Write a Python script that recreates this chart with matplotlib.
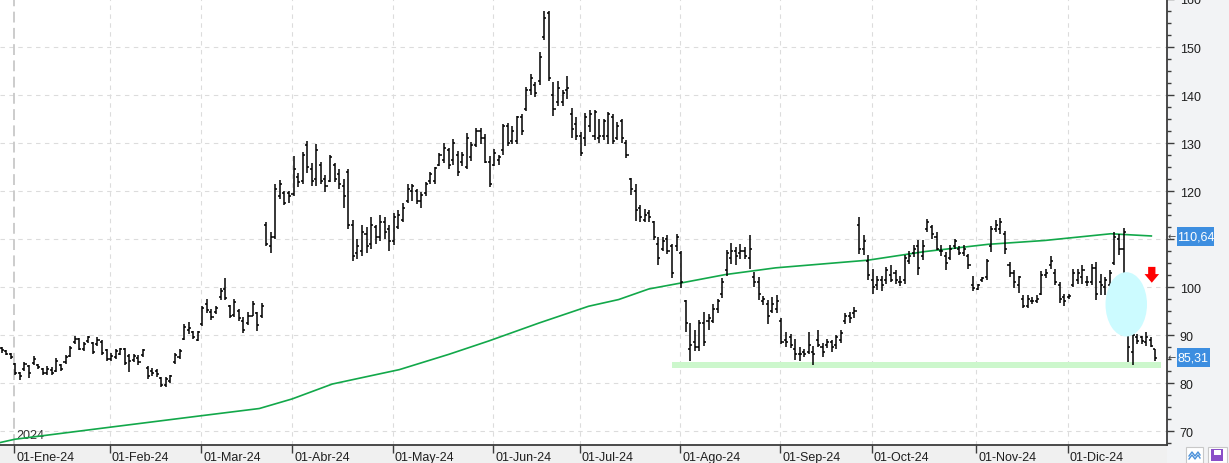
import matplotlib
matplotlib.use("Agg")
import matplotlib.pyplot as plt
from matplotlib.patches import Rectangle, Ellipse, Polygon
from matplotlib.transforms import blended_transform_factory, offset_copy

plt.rcParams["font.family"] = ["Liberation Sans", "DejaVu Sans"]

# daily OHLC bars, 27-Dec-23 .. 27-Dec-24 (index = trading day)
highs = [
    87.5, 86.8, 86.3, 84.2, 82.4, 84.4, 83.7, 85.6, 84.0, 83.1,
    83.5, 83.3, 85.2, 84.0, 85.8, 87.7, 89.9, 89.4, 88.5, 89.9,
    88.5, 89.6, 88.9, 87.0, 86.3, 87.0, 87.3, 87.3, 86.0, 86.0,
    85.8, 87.0, 83.5, 83.1, 83.0, 81.2, 81.2, 81.6, 86.3, 87.0,
    92.3, 92.8, 90.9, 90.9, 96.1, 97.5, 95.5, 96.1, 99.8, 101.8,
    96.3, 97.5, 95.5, 93.7, 94.8, 97.0, 94.9, 96.7, 113.5, 111.4,
    121.4, 122.3, 120.1, 120.1, 127.4, 123.7, 128.2, 130.4, 125.8, 129.7,
    126.1, 123.3, 127.6, 125.9, 124.5, 122.6, 124.5, 114.0, 110.0, 113.0,
    112.5, 114.5, 113.0, 115.0, 114.5, 113.0, 115.5, 116.0, 117.5, 121.4,
    121.4, 120.5, 119.7, 121.9, 124.0, 125.1, 128.0, 130.1, 129.0, 130.9,
    128.3, 128.1, 132.0, 130.2, 133.2, 133.2, 131.8, 127.4, 128.7, 127.6,
    133.9, 134.1, 133.5, 135.7, 136.0, 141.7, 144.3, 142.7, 148.9, 157.6,
    157.4, 142.7, 142.9, 141.1, 144.0, 137.3, 135.5, 132.3, 136.3, 136.9,
    136.9, 135.1, 135.1, 136.5, 136.1, 134.4, 135.1, 130.7, 122.8, 121.4,
    117.0, 116.3, 116.1, 113.8, 110.4, 110.4, 110.8, 109.0, 111.1, 107.6,
    97.4, 92.5, 91.0, 93.2, 94.8, 94.4, 96.4, 97.6, 101.9, 107.8,
    109.2, 108.3, 108.9, 108.3, 110.8, 103.1, 102.1, 98.1, 97.4, 97.9,
    98.3, 93.6, 90.6, 90.3, 89.2, 87.6, 87.2, 90.6, 87.8, 91.1,
    88.4, 89.2, 89.0, 90.1, 91.0, 94.6, 94.8, 95.8, 114.6, 110.8,
    106.6, 103.8, 102.4, 102.2, 104.2, 104.5, 103.5, 102.4, 106.6, 107.6,
    108.7, 109.7, 109.7, 114.1, 113.0, 111.5, 108.7, 107.3, 108.7, 110.1,
    108.5, 108.7, 106.9, 102.4, 100.7, 102.1, 105.8, 112.8, 113.9, 114.4,
    111.6, 105.3, 103.5, 102.3, 98.3, 98.3, 97.9, 98.3, 103.3, 103.7,
    106.5, 103.7, 101.0, 98.6, 98.6, 103.8, 103.8, 104.5, 102.4, 104.9,
    105.2, 102.8, 102.1, 103.5, 111.5, 111.1, 112.2, 91.0, 90.3, 90.3,
    89.9, 90.6, 89.6, 87.2,
]
lows = [
    86.3, 85.8, 85.1, 81.6, 80.6, 82.6, 81.0, 83.8, 83.0, 81.6,
    81.7, 81.6, 82.3, 82.6, 84.0, 85.4, 88.2, 86.8, 86.6, 88.4,
    86.0, 87.8, 85.8, 84.7, 84.6, 85.1, 85.8, 83.7, 82.4, 84.4,
    83.8, 85.4, 80.8, 81.5, 81.2, 79.2, 79.2, 80.1, 84.0, 85.1,
    88.9, 90.3, 89.2, 88.7, 91.9, 94.6, 93.2, 94.4, 97.4, 97.2,
    93.5, 93.7, 93.0, 90.5, 92.0, 93.9, 90.9, 93.5, 108.6, 107.1,
    110.0, 118.3, 117.1, 117.6, 119.0, 120.9, 121.4, 123.7, 121.1, 121.1,
    121.4, 119.8, 121.8, 121.8, 120.5, 116.5, 112.0, 105.5, 105.8, 106.5,
    107.0, 108.0, 109.0, 109.5, 110.0, 107.5, 108.8, 112.0, 113.5, 117.5,
    118.0, 117.2, 116.5, 119.0, 121.4, 121.4, 125.2, 125.8, 124.5, 125.4,
    123.1, 125.2, 124.5, 126.3, 129.2, 129.9, 125.8, 120.9, 125.2, 125.4,
    127.6, 129.4, 129.9, 129.7, 131.6, 136.6, 140.1, 139.6, 142.0, 151.5,
    142.9, 135.6, 137.7, 137.7, 139.2, 131.1, 130.6, 127.3, 129.4, 132.3,
    130.7, 130.0, 130.6, 129.9, 129.9, 130.7, 130.0, 126.9, 119.1, 113.8,
    113.5, 113.5, 113.5, 109.7, 104.5, 107.5, 106.9, 101.9, 107.6, 99.7,
    90.6, 84.6, 86.7, 86.7, 87.8, 91.0, 92.5, 94.6, 97.8, 102.2,
    104.7, 104.5, 105.9, 105.9, 103.8, 100.1, 97.4, 96.2, 92.4, 94.6,
    94.6, 88.1, 87.5, 87.4, 84.9, 84.7, 85.4, 86.0, 83.7, 87.5,
    85.4, 87.4, 86.5, 87.1, 88.4, 92.4, 92.5, 93.6, 106.9, 106.6,
    101.4, 98.6, 99.3, 99.2, 100.7, 101.0, 100.7, 100.3, 100.7, 104.9,
    106.3, 102.6, 105.6, 111.5, 110.1, 107.8, 106.5, 103.5, 105.6, 108.0,
    106.6, 106.5, 103.8, 99.1, 99.3, 101.0, 101.4, 107.2, 111.5, 111.1,
    106.9, 102.1, 99.7, 98.8, 95.6, 95.6, 96.5, 96.7, 98.3, 101.9,
    103.8, 100.5, 96.7, 96.0, 97.6, 100.0, 100.7, 100.7, 100.3, 100.5,
    97.2, 98.3, 98.3, 100.0, 104.5, 106.6, 102.8, 84.4, 83.7, 88.2,
    88.2, 87.8, 87.5, 84.5,
]
opens = [
    87.3, 86.6, 86.1, 84.0, 82.0, 83.0, 83.5, 84.2, 83.8, 83.0,
    82.0, 82.8, 82.6, 83.8, 84.3, 85.7, 88.5, 89.2, 87.0, 88.8,
    88.3, 88.2, 88.6, 86.8, 85.0, 85.5, 86.0, 87.0, 85.6, 84.8,
    85.3, 85.8, 83.2, 82.6, 82.6, 81.0, 79.5, 80.5, 84.3, 85.5,
    89.2, 91.0, 90.7, 89.0, 92.2, 96.5, 94.8, 94.8, 98.0, 99.5,
    96.0, 94.2, 95.0, 93.0, 92.5, 94.0, 94.5, 94.0, 113.0, 108.5,
    110.5, 119.0, 119.5, 119.5, 119.3, 123.0, 122.0, 129.5, 124.5, 122.5,
    125.5, 122.5, 122.0, 125.5, 123.5, 121.0, 124.0, 113.0, 107.0, 107.5,
    111.0, 109.0, 112.5, 110.5, 113.5, 112.0, 109.5, 112.5, 114.0, 118.0,
    120.0, 120.0, 118.0, 119.5, 122.0, 122.0, 125.5, 126.5, 128.5, 126.5,
    127.5, 126.0, 125.0, 127.0, 129.5, 132.5, 131.0, 126.0, 125.5, 126.5,
    128.5, 133.5, 130.5, 130.5, 135.5, 137.0, 141.0, 142.0, 143.0, 152.0,
    157.0, 140.0, 138.5, 138.5, 141.0, 136.0, 134.0, 131.5, 131.0, 133.5,
    131.5, 131.0, 131.5, 131.5, 135.5, 131.0, 134.5, 130.0, 122.5, 120.0,
    116.5, 114.0, 115.5, 113.5, 109.0, 108.0, 110.0, 108.5, 108.5, 107.0,
    97.0, 87.0, 88.5, 87.5, 92.5, 93.0, 93.0, 95.5, 98.5, 103.5,
    106.0, 107.5, 107.0, 107.5, 106.0, 102.0, 101.0, 97.0, 96.5, 95.0,
    95.5, 93.0, 89.0, 89.5, 87.0, 86.0, 86.5, 86.5, 86.5, 89.0,
    87.5, 88.0, 88.5, 88.0, 89.0, 93.0, 94.0, 94.5, 113.0, 108.0,
    105.5, 101.5, 100.5, 101.5, 101.5, 102.5, 103.0, 101.0, 101.5, 105.5,
    107.0, 108.5, 106.5, 112.0, 112.5, 110.5, 107.5, 106.5, 106.0, 108.5,
    108.0, 107.0, 106.5, 100.5, 99.5, 101.5, 102.0, 108.5, 112.0, 112.0,
    111.0, 104.5, 103.0, 100.5, 97.5, 96.0, 97.0, 97.0, 98.5, 102.5,
    104.5, 103.0, 100.5, 98.0, 98.0, 100.5, 101.5, 102.0, 101.0, 101.0,
    104.0, 101.0, 100.0, 100.5, 105.0, 110.0, 108.0, 90.0, 86.5, 89.5,
    89.5, 88.5, 89.0, 87.0,
]
closes = [
    86.8, 86.0, 85.4, 82.2, 81.5, 84.0, 82.0, 85.0, 83.3, 82.0,
    83.0, 82.0, 84.6, 82.9, 85.5, 87.4, 89.2, 87.2, 88.2, 89.5,
    86.5, 89.0, 86.2, 85.0, 85.6, 86.7, 87.0, 84.2, 84.5, 85.6,
    84.4, 86.8, 81.5, 82.0, 81.8, 79.5, 80.8, 81.4, 85.8, 86.6,
    91.7, 91.5, 89.5, 90.6, 95.6, 95.2, 93.7, 95.6, 99.2, 97.7,
    94.0, 96.8, 93.5, 91.0, 94.0, 96.5, 92.0, 96.0, 109.0, 110.5,
    120.5, 121.5, 117.5, 119.0, 124.5, 121.8, 127.5, 125.0, 122.0, 128.5,
    122.0, 121.0, 127.0, 122.5, 121.5, 119.0, 113.0, 106.5, 108.5, 111.5,
    108.5, 113.0, 110.5, 113.5, 111.5, 109.5, 114.5, 115.0, 116.5, 120.5,
    121.0, 118.0, 119.2, 121.5, 123.5, 124.8, 127.5, 129.0, 125.5, 130.0,
    124.0, 127.5, 131.0, 129.5, 132.5, 131.0, 126.0, 121.5, 128.0, 127.0,
    133.5, 130.0, 132.5, 135.5, 132.5, 141.0, 143.5, 140.5, 148.0, 156.0,
    143.5, 137.0, 141.5, 140.5, 141.5, 133.0, 131.5, 128.0, 135.5, 136.0,
    136.5, 131.5, 134.5, 136.0, 130.5, 133.5, 131.0, 127.5, 120.5, 116.0,
    114.5, 115.0, 114.5, 110.5, 106.0, 109.5, 107.5, 103.0, 110.5, 101.0,
    92.5, 88.0, 87.5, 92.5, 88.5, 93.5, 95.5, 97.0, 101.0, 107.0,
    107.5, 106.5, 107.5, 106.5, 108.0, 101.0, 98.5, 97.5, 94.0, 96.5,
    97.0, 88.5, 88.5, 88.0, 86.0, 86.0, 86.0, 88.0, 86.0, 88.0,
    86.5, 88.5, 87.5, 89.5, 90.5, 94.0, 93.5, 95.0, 108.0, 109.5,
    102.5, 100.0, 101.5, 100.5, 103.5, 101.5, 101.5, 101.0, 106.0, 106.5,
    108.0, 104.0, 108.5, 113.5, 111.0, 108.0, 107.5, 105.0, 108.0, 109.5,
    107.0, 108.0, 104.5, 99.8, 100.5, 101.8, 105.5, 112.0, 113.0, 113.5,
    108.0, 103.0, 101.0, 102.0, 96.0, 97.5, 97.0, 97.5, 102.5, 103.0,
    105.5, 101.0, 97.5, 97.0, 98.2, 103.0, 103.0, 103.5, 101.0, 104.0,
    98.5, 100.5, 101.5, 103.0, 110.5, 108.0, 111.5, 87.5, 90.0, 88.8,
    88.7, 89.5, 87.8, 85.31,
]

# 200-session moving average, read at a few points (bar index, value)
ma_idx = [-0.4, 2.9, 23.7, 43.8, 56.5, 63.7, 72.5, 87.2, 98.1, 106.9, 117.8,
          128.7, 135.3, 141.9, 148.7, 158.7, 169.7, 190.0, 202.5, 216.3,
          228.7, 243.2, 252.1]
ma_val = [67.6, 68.3, 70.8, 73.2, 74.7, 76.7, 79.8, 82.8, 86.0, 88.8, 92.5,
          96.0, 97.4, 99.6, 100.8, 102.6, 104.0, 105.6, 107.4, 108.9,
          109.7, 111.1, 110.64]

month_idx = [3, 24, 44, 64, 86, 108, 127, 149, 171, 191, 214, 234]
month_labels = ["01-Ene-24", "01-Feb-24", "01-Mar-24", "01-Abr-24",
                "01-May-24", "01-Jun-24", "01-Jul-24", "01-Ago-24",
                "01-Sep-24", "01-Oct-24", "01-Nov-24", "01-Dic-24"]

y_ticks = [70, 80, 90, 100, 110, 120, 130, 140, 150, 160]
# "110" sits under the 110,64 price box in the original
y_labels = ["70", "80", "90", "100", "", "120", "130", "140", "150", "160"]

last_ma = "110,64"
last_close = "85,31"

W, H = 1229, 464
fig = plt.figure(figsize=(W / 100, H / 100), dpi=100)
fig.patch.set_facecolor("#f0f0f0")
fig.add_artist(Rectangle((1167.3 / W, 0), 1, 1, transform=fig.transFigure,
                         facecolor="#f2f3f5", edgecolor="none", zorder=0))

ax = fig.add_axes([0, 18 / H, 1167.3 / W, 446 / H])
ax.set_facecolor("white")
ax.set_xlim(-0.37, 255.6)
ax.set_ylim(67.1, 159.8)

for s in ["left", "top"]:
    ax.spines[s].set_visible(False)
for s in ["right", "bottom"]:
    ax.spines[s].set_color("#3c3c3c")
    ax.spines[s].set_linewidth(1.3)

# grid
for v in y_ticks[:-1]:
    ax.axhline(v, color="#dcdcdc", lw=0.8, ls=(0, (4, 4)), zorder=1)
for i, m in enumerate(month_idx):
    if i == 0:
        ax.axvline(m - 0.25, color="#c8c8c8", lw=1.3, ls=(0, (6, 3)), zorder=1)
    else:
        ax.axvline(m - 0.25, color="#dcdcdc", lw=0.8, ls=(0, (4, 4)), zorder=1)

# y axis on the right
ax.yaxis.tick_right()
ax.set_yticks(y_ticks, labels=y_labels)
ax.set_yticks([v / 2 for v in range(135, 321, 5)], minor=True)
ax.tick_params(axis="y", which="major", length=5, width=1, color="#3c3c3c",
               pad=4, labelsize=9, labelcolor="#1e1e1e")
ax.tick_params(axis="y", which="minor", length=3, width=1, color="#3c3c3c")

# x axis: month ticks, labels left-aligned
ax.set_xticks([m - 0.25 for m in month_idx], labels=[])
ax.tick_params(axis="x", length=6, width=1, color="#3c3c3c")
trans = offset_copy(blended_transform_factory(ax.transData, ax.transAxes),
                    fig=fig, x=2, y=0, units="dots")
for m, lab in zip(month_idx, month_labels):
    ax.text(m - 0.25, -0.026, lab, transform=trans, ha="left", va="center",
            fontsize=9, color="#1e1e1e", clip_on=False)

ax.text(3.3, 68.0, "2024", fontsize=9, color="#333333", ha="left",
        va="bottom", zorder=2)

# support band
ax.add_patch(Rectangle((147.0, 83.06), 107.2, 1.24, facecolor="#ccf7cc",
                       edgecolor="none", zorder=2))

# moving average
ax.plot(ma_idx, ma_val, color="#12a84a", lw=1.2, zorder=3)

# OHLC bars
x = list(range(len(highs)))
ax.vlines(x, lows, highs, color="black", lw=1.1, zorder=4)
ax.hlines(opens, [i - 0.45 for i in x], x, color="black", lw=1.1, zorder=4)
ax.hlines(closes, x, [i + 0.45 for i in x], color="black", lw=1.1, zorder=4)

# annotations
ax.add_patch(Ellipse((246.6, 96.4), 9.1, 13.4, facecolor="#ccfbff",
                     edgecolor="none", zorder=5))
ax.add_patch(Polygon([(251.4, 104.2), (253.0, 104.2), (253.0, 102.7),
                      (253.8, 102.7), (252.2, 100.9), (250.6, 102.7),
                      (251.4, 102.7)], closed=True, facecolor="#ff0000",
                     edgecolor="none", zorder=5))


# price boxes on the right axis
def price_box(x0, x1, ytop, ybot, text):
    fig.add_artist(Rectangle((x0 / W, 1 - ybot / H), (x1 - x0) / W,
                             (ybot - ytop) / H, transform=fig.transFigure,
                             facecolor="#3d8ee0", edgecolor="none", zorder=5))
    fig.text((x0 + x1) / 2 / W, 1 - (ytop + ybot) / 2 / H, text,
             ha="center", va="center", color="white", fontsize=9, zorder=6)
    fig.text(1172 / W, 1 - (ytop + ybot) / 2 / H, "\u2190", ha="center",
             va="center", color="#444444", fontsize=7, family="DejaVu Sans",
             zorder=6)


price_box(1177, 1214, 228, 247.3, last_ma)
price_box(1177, 1210, 349, 367.7, last_close)

# little toolbar buttons bottom right
for bx0, bx1 in [(1186, 1203), (1208, 1227)]:
    fig.add_artist(Rectangle((bx0 / W, 0), (bx1 - bx0) / W, 16 / H,
                             transform=fig.transFigure, facecolor="white",
                             edgecolor="#c8c8c8", lw=0.8, zorder=5))
zx = [1189, 1192, 1195, 1198, 1200]
fig.add_artist(plt.Line2D([v / W for v in zx],
                          [1 - y / H for y in [457, 453, 457, 453, 456]],
                          color="#4a90d9", lw=1, transform=fig.transFigure,
                          zorder=6))
fig.add_artist(plt.Line2D([v / W for v in zx],
                          [1 - y / H for y in [460, 456, 460, 456, 459]],
                          color="#4a90d9", lw=1, transform=fig.transFigure,
                          zorder=6))
fig.add_artist(Rectangle((1211 / W, 1 - 462 / H), 12 / W, 12 / H,
                         transform=fig.transFigure, facecolor="#8a4fc8",
                         edgecolor="none", zorder=6))
fig.add_artist(Rectangle((1213.5 / W, 1 - 456 / H), 7 / W, 5 / H,
                         transform=fig.transFigure, facecolor="white",
                         edgecolor="none", zorder=7))

fig.savefig("out.png", dpi=100, facecolor=fig.get_facecolor())
